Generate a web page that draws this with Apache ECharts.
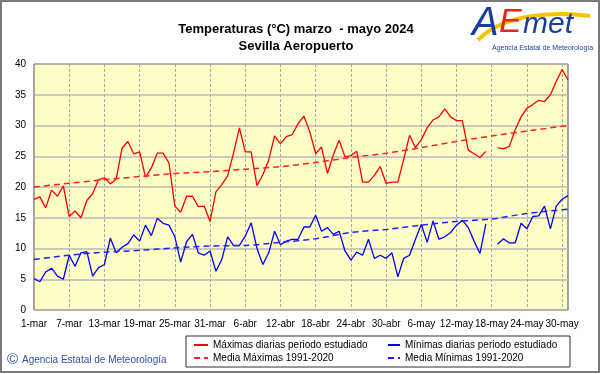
<!DOCTYPE html>
<html><head><meta charset="utf-8">
<script src="https://cdn.jsdelivr.net/npm/echarts@6/dist/echarts.min.js"></script>
<style>html,body{margin:0;padding:0;background:#fff}#c{width:601px;height:374px}</style>
</head><body><div id="c"></div>
<script>
// Tick labels every 6 days (day index 0 = 1-mar, 91 = 31-may)
const tickLabels = ['1-mar','7-mar','13-mar','19-mar','25-mar','31-mar','6-abr','12-abr','18-abr','24-abr','30-abr','6-may','12-may','18-may','24-may','30-may'];
// Daily maximum temperatures (1-mar .. 31-may)
const maxVals = [18.0,18.4,16.6,19.5,18.5,20.2,15.2,16.1,15.0,17.8,18.9,21.2,21.5,20.5,21.3,26.3,27.4,25.4,25.7,21.6,
23.1,25.5,25.5,23.9,16.9,15.9,18.5,18.5,16.8,16.9,14.4,19.2,20.4,21.8,25.5,29.6,25.7,25.7,20.2,22.0,
24.4,28.3,27.0,28.2,28.5,30.3,31.5,29.0,25.4,26.5,22.2,25.2,27.6,24.9,25.1,25.8,20.8,20.8,21.9,23.3,
20.6,20.8,20.8,24.5,28.4,26.4,27.7,29.6,30.9,31.4,32.7,31.4,30.8,30.8,26.0,25.4,24.8,25.8,null,26.4,
26.2,26.6,29.3,31.4,32.8,33.4,34.1,33.9,35.0,37.2,39.1,37.4];
// Daily minimum temperatures
const minVals = [5.1,4.6,6.2,6.8,5.5,5.0,8.9,7.1,9.3,9.5,5.5,6.9,7.4,11.7,9.3,10.2,10.8,12.2,11.2,13.8,
12.1,14.9,14.1,13.8,11.9,7.8,11.1,12.3,9.3,8.9,9.6,6.3,8.2,11.9,10.5,10.5,12.0,14.2,10.0,7.4,
9.3,12.8,10.6,11.2,11.5,11.5,13.5,13.5,15.4,12.8,13.4,12.3,12.8,9.6,8.1,9.4,8.9,11.5,8.4,8.9,
8.4,9.3,5.4,8.4,8.9,11.5,13.9,11.0,14.5,11.5,11.9,12.6,13.8,14.6,13.4,11.2,9.2,14.0,null,10.7,
11.6,10.9,10.9,14.1,13.2,15.2,15.3,16.9,13.2,16.9,18.0,18.6];
// Climatological means 1991-2020, read at anchor days
const meanDays = [0,6,12,18,24,30,36,42,48,54,60,66,72,78,84,91];
const meanMaxVals = [20.0,20.6,21.2,21.7,22.2,22.5,22.9,23.3,24.0,24.8,25.5,26.4,27.4,28.3,29.1,30.0];
const meanMinVals = [8.2,8.9,9.4,9.7,10.1,10.4,10.5,11.0,11.6,12.6,13.1,13.8,14.4,14.8,15.7,16.4];

const pair = (xs, ys) => ys.map((v, i) => [xs ? xs[i] : i, v]);
const FONT = '"Liberation Sans", Arial, sans-serif';
const legendCommon = {orient: 'vertical', top: 340, itemHeight: 10, itemGap: 3, selectedMode: false, padding: 0,
  itemStyle: {opacity: 0}, textStyle: {fontFamily: FONT, fontSize: 10, color: '#000'}};

const chart = echarts.init(document.getElementById('c'), null, {renderer: 'canvas'});
chart.setOption({
  animation: false,
  backgroundColor: '#ffffff',
  title: {
    text: 'Temperaturas (°C) marzo  - mayo 2024\nSevilla Aeropuerto',
    left: 291, top: 16, textAlign: 'center',
    textStyle: {fontFamily: FONT, fontSize: 13, fontWeight: 'bold', color: '#000', lineHeight: 17}
  },
  grid: {left: 34, top: 64, right: 33, bottom: 64, show: true, backgroundColor: '#fefec6', borderColor: '#444', borderWidth: 1},
  xAxis: {
    type: 'value', min: 0, max: 91, interval: 6,
    axisLine: {show: false}, axisTick: {show: false},
    axisLabel: {fontFamily: FONT, fontSize: 10, color: '#000', margin: 9, showMaxLabel: false,
      formatter: v => (v % 6 === 0 && tickLabels[v / 6]) ? tickLabels[v / 6] : ''},
    splitLine: {show: true, lineStyle: {color: '#a8a8a8', type: [3, 2], width: 1}}
  },
  yAxis: {
    type: 'value', min: 0, max: 40, interval: 5,
    axisLine: {show: false}, axisTick: {show: false},
    axisLabel: {fontFamily: FONT, fontSize: 10, color: '#000', margin: 8},
    splitLine: {show: true, lineStyle: {color: '#b8b8b8', width: 1.5}}
  },
  legend: [
    Object.assign({data: ['Máximas diarias periodo estudiado', 'Media Máximas 1991-2020'], left: 193, itemWidth: 14}, legendCommon),
    Object.assign({data: ['Mínimas diarias periodo estudiado', 'Media Mínimas 1991-2020'], left: 387, itemWidth: 12}, legendCommon)
  ],
  series: [
    {name: 'Máximas diarias periodo estudiado', type: 'line', data: pair(null, maxVals), symbol: 'none',
     connectNulls: false, color: '#ff0000', lineStyle: {color: '#ff0000', width: 1.3}},
    {name: 'Mínimas diarias periodo estudiado', type: 'line', data: pair(null, minVals), symbol: 'none',
     connectNulls: false, color: '#0000ff', lineStyle: {color: '#0000ff', width: 1.3}},
    {name: 'Media Máximas 1991-2020', type: 'line', data: pair(meanDays, meanMaxVals), symbol: 'none', smooth: 0.3,
     color: '#ff2020', lineStyle: {color: '#ff2020', width: 1.5, type: [6, 4]}},
    {name: 'Media Mínimas 1991-2020', type: 'line', data: pair(meanDays, meanMinVals), symbol: 'none', smooth: 0.3,
     color: '#2020ff', lineStyle: {color: '#2020ff', width: 1.5, type: [6, 4]}}
  ],
  graphic: [
    {type: 'rect', shape: {x: 1, y: 1, width: 598, height: 371}, style: {fill: 'none', stroke: '#7a7a7a', lineWidth: 2}, silent: true},
    {type: 'rect', shape: {x: 186, y: 336, width: 384, height: 31}, style: {fill: 'none', stroke: '#333', lineWidth: 1}, silent: true, z: -1},
    {type: 'text', left: 7, top: 352, style: {text: '©', fontFamily: FONT, fontSize: 15, fill: '#2d4fa8'}},
    {type: 'text', left: 22, top: 355, style: {text: 'Agencia Estatal de Meteorología', fontFamily: FONT, fontSize: 10, fill: '#2d4fa8'}},
    // AEMET logo
    {type: 'bezierCurve', shape: {x1: 478, y1: 40, x2: 590, y2: 16, cpx1: 505, cpy1: 12, cpx2: 560, cpy2: 12},
     style: {stroke: '#f5c400', lineWidth: 4, fill: 'none'}},
    {type: 'text', left: 472, top: 4, style: {text: 'A', fontFamily: FONT, fontSize: 40, fontStyle: 'italic', fill: '#1a3e9e'}},
    {type: 'text', left: 499, top: 6, style: {text: 'E', fontFamily: FONT, fontSize: 34, fontStyle: 'italic', fill: '#e02a1a'}},
    {type: 'text', left: 523, top: 10, style: {text: 'met', fontFamily: FONT, fontSize: 30, fontStyle: 'italic', fill: '#1a3e9e'}},
    {type: 'text', left: 492, top: 45, style: {text: 'Agencia Estatal de Meteorología', fontFamily: FONT, fontSize: 7, fill: '#1a3e9e'}}
  ]
});
</script></body></html>
